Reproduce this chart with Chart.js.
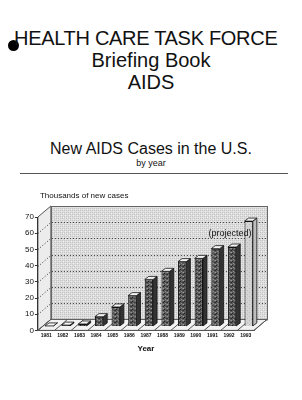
<!DOCTYPE html>
<html>
<head>
<meta charset="utf-8">
<script src="https://cdn.jsdelivr.net/npm/chart.js@4"></script>
<style>
    body { margin: 0; background: #fff; font-family: "Liberation Sans", Arial, sans-serif; }
    #page { position: relative; width: 302px; height: 400px; overflow: hidden; }
    .t { position: absolute; left: 0; width: 302px; text-align: center; color: #111; white-space: nowrap; }
    #dot { position: absolute; left: 8px; top: 40px; width: 11px; height: 11px; border-radius: 50%; background: #000; }
    #rule { position: absolute; left: 20px; top: 173px; width: 268px; height: 1px; background: #555; }
    #wrap { position: absolute; left: 0; top: 186px; width: 302px; height: 172px; }
</style>
</head>
<body>
<div id="page">
    <div id="dot"></div>
    <div class="t" style="top:27px;font-size:20px;left:14px;width:266px;text-align:left;letter-spacing:-0.3px;">HEALTH CARE TASK FORCE</div>
    <div class="t" style="top:49px;font-size:20px;">Briefing Book</div>
    <div class="t" style="top:71px;font-size:20px;">AIDS</div>
    <div class="t" style="top:140px;font-size:16px;">New AIDS Cases in the U.S.</div>
    <div class="t" style="top:158px;font-size:9px;">by year</div>
    <div id="rule"></div>
    <div id="wrap"><canvas id="AidsChart"></canvas></div>
</div>
<script>
var anios = ['1981', '1982', '1983', '1984', '1985', '1986', '1987', '1988', '1989', '1990', '1991', '1992', '1993'];
var casos = [0.3, 0.8, 1.5, 6, 12, 19, 29, 34, 40, 42, 48, 49, 65];
var proyectado = [false, false, false, false, false, false, false, false, false, false, false, false, true];
var ticksY = [0, 10, 20, 30, 40, 50, 60, 70];

var fuente = '"Liberation Sans", Arial, sans-serif';
var prof = { dx: 13, dy: -11 };   // profundidad del fondo 3D
var barra = { dx: 3, dy: -4, lado: 4, alto: 3 };

//texturas
function patron(base, puntos, tam) {
    var c = document.createElement('canvas');
    c.width = tam; c.height = tam;
    var g = c.getContext('2d');
    g.fillStyle = base;
    g.fillRect(0, 0, tam, tam);
    puntos.forEach(function (p) {
        g.fillStyle = p[2];
        g.fillRect(p[0], p[1], 1, 1);
    });
    return g.createPattern(c, 'repeat');
}

var texturaPared = patron('#dedede', [[0, 0, '#c4c4c4'], [2, 0, '#c4c4c4'], [0, 2, '#c4c4c4'], [2, 2, '#c4c4c4'], [1, 1, '#ececec'], [3, 3, '#ececec']], 4);
var texturaOscura = patron('#5a5a5a', [[0, 0, '#2a2a2a'], [2, 1, '#8a8a8a'], [1, 3, '#222'], [3, 2, '#777'], [3, 0, '#3a3a3a'], [0, 2, '#999']], 4);
var texturaClara = patron('#d4d4d4', [[0, 0, '#bbb'], [2, 2, '#bbb']], 4);

var coloresBarras = proyectado.map(function (p) { return p ? texturaClara : texturaOscura; });

//paredes del grafico 3D
var paredesPlugin = {
    id: 'paredes',
    beforeDraw: function (chart) {
        var a = chart.chartArea;
        var c = chart.ctx;
        var y = chart.scales.y;
        var x = chart.scales.x;
        var dx = prof.dx, dy = prof.dy;
        c.save();
        // pared del fondo
        c.fillStyle = texturaPared;
        c.fillRect(a.left + dx, a.top + dy, a.right - a.left, a.bottom - a.top);
        c.strokeStyle = '#666';
        c.lineWidth = 1;
        c.strokeRect(a.left + dx + 0.5, a.top + dy + 0.5, a.right - a.left, a.bottom - a.top);
        // pared izquierda
        c.beginPath();
        c.moveTo(a.left, a.top);
        c.lineTo(a.left + dx, a.top + dy);
        c.lineTo(a.left + dx, a.bottom + dy);
        c.lineTo(a.left, a.bottom);
        c.closePath();
        c.fillStyle = '#ececec';
        c.fill();
        c.strokeStyle = '#555';
        c.stroke();
        // piso
        c.beginPath();
        c.moveTo(a.left, a.bottom);
        c.lineTo(a.right, a.bottom);
        c.lineTo(a.right + dx, a.bottom + dy);
        c.lineTo(a.left + dx, a.bottom + dy);
        c.closePath();
        c.fillStyle = '#f2f2f2';
        c.fill();
        c.stroke();
        // divisiones del piso
        for (var i = 0; i <= anios.length; i++) {
            var px = i < anios.length ? x.getPixelForValue(i) - (x.getPixelForValue(1) - x.getPixelForValue(0)) / 2 : a.right;
            c.beginPath();
            c.moveTo(px, a.bottom);
            c.lineTo(px + dx, a.bottom + dy);
            c.stroke();
        }
        // lineas de la grilla punteadas
        c.setLineDash([1, 2]);
        c.strokeStyle = '#333';
        ticksY.forEach(function (v) {
            if (v === 0 || v === 70) return;
            var py = Math.round(y.getPixelForValue(v)) + 0.5;
            c.beginPath();
            c.moveTo(a.left, py);
            c.lineTo(a.left + dx, py + dy);
            c.lineTo(a.right + dx, py + dy);
            c.stroke();
        });
        c.restore();
    },
    beforeDatasetsDraw: function (chart) {
        chart.ctx.save();
        chart.ctx.translate(barra.dx, barra.dy);
    },
    afterDatasetsDraw: function (chart) {
        var c = chart.ctx;
        var meta = chart.getDatasetMeta(0);
        meta.data.forEach(function (b, i) {
            var l = b.x - b.width / 2, r = b.x + b.width / 2;
            var d = barra.lado, h = barra.alto;
            // lado derecho
            c.beginPath();
            c.moveTo(r, b.y);
            c.lineTo(r + d, b.y - h);
            c.lineTo(r + d, b.base - h);
            c.lineTo(r, b.base);
            c.closePath();
            c.fillStyle = proyectado[i] ? '#bdbdbd' : '#333';
            c.fill();
            c.strokeStyle = '#111';
            c.lineWidth = 0.8;
            c.stroke();
            // tapa
            c.beginPath();
            c.moveTo(l, b.y);
            c.lineTo(l + d, b.y - h);
            c.lineTo(r + d, b.y - h);
            c.lineTo(r, b.y);
            c.closePath();
            c.fillStyle = '#f4f4f4';
            c.fill();
            c.stroke();
        });
        c.restore();

        // textos
        c.save();
        c.fillStyle = '#111';
        c.font = '8px ' + fuente;
        c.textAlign = 'left';
        c.fillText('Thousands of new cases', chart.chartArea.left + 2, chart.chartArea.top - 19);
        var ult = meta.data[anios.length - 1];
        c.font = '9px ' + fuente;
        c.textAlign = 'right';
        c.fillText('(projected)', ult.x - ult.width / 2 + barra.dx + 7, chart.scales.y.getPixelForValue(58));
        c.restore();
    }
};

document.addEventListener('DOMContentLoaded', function () {
    var ctx = document.getElementById('AidsChart').getContext('2d');

    var aidsChart = new Chart(ctx, {
        type: 'bar',
        data: {
            labels: anios,
            datasets: [{
                label: 'Thousands of new cases',
                data: casos,
                backgroundColor: coloresBarras,
                borderColor: '#111',
                borderWidth: 1,
                categoryPercentage: 1,
                barPercentage: 0.5
            }]
        },
        options: {
            responsive: true,
            maintainAspectRatio: false,
            animation: false,
            layout: { padding: { left: 24, right: 48, top: 31, bottom: 4 } },
            scales: {
                y: {
                    min: 0,
                    max: 70,
                    afterBuildTicks: function (axis) {
                        axis.ticks = ticksY.map(function (v) { return { value: v }; });
                    },
                    grid: {
                        drawOnChartArea: false,
                        color: '#333',
                        tickLength: 3
                    },
                    border: { color: '#333' },
                    ticks: {
                        color: '#111',
                        font: { size: 8, family: fuente },
                        padding: 1
                    }
                },
                x: {
                    grid: { display: false, drawTicks: false },
                    border: { color: '#555' },
                    ticks: {
                        color: '#111',
                        maxRotation: 0,
                        autoSkip: false,
                        font: { size: 5, weight: 'bold', family: fuente },
                        padding: 2
                    },
                    title: {
                        display: true,
                        text: 'Year',
                        color: '#111',
                        font: { size: 8, weight: 'bold', family: fuente },
                        padding: { top: 4, bottom: 0 }
                    }
                }
            },
            plugins: {
                legend: { display: false },
                tooltip: { enabled: false }
            }
        },
        plugins: [paredesPlugin]
    });
});
</script>
</body>
</html>
